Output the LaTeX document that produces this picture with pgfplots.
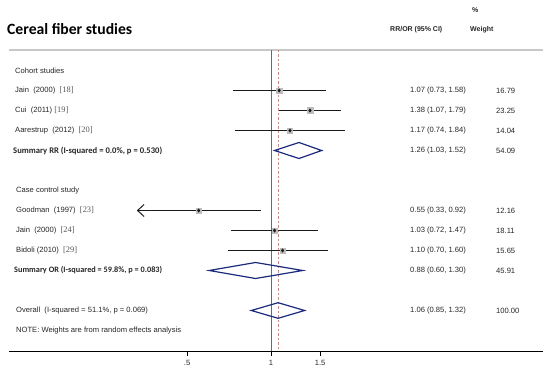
\documentclass[border=0pt]{standalone}
\usepackage{fontspec}
\setmainfont{Liberation Sans}
\newfontfamily\refs{Liberation Serif}
\newfontfamily\osans{Carlito}
\usepackage{graphicx}
\usepackage{pgfplots}
\pgfplotsset{compat=1.18}
\usetikzlibrary{arrows.meta}
\definecolor{ci}{HTML}{1A1A1A}
\definecolor{dia}{HTML}{1C2A7E}
\definecolor{boxg}{HTML}{BDBDBD}
\definecolor{nullc}{HTML}{6A6A6A}
\definecolor{refl}{HTML}{C98A8A}
\definecolor{txt}{HTML}{262626}
\definecolor{refc}{HTML}{555555}
\definecolor{topl}{HTML}{C8C8C8}
\newcommand{\sm}{\fontsize{7.6bp}{9bp}\selectfont}
\newcommand{\hd}{\fontsize{7bp}{8bp}\selectfont\bfseries}
\newcommand{\rf}[1]{{\refs\fontsize{8.4bp}{9bp}\selectfont\color{refc}[#1]}}
\begin{document}
\begin{tikzpicture}
\useasboundingbox (-9.3bp,-25bp) rectangle (540.7bp,351bp);
\begin{axis}[
  scale only axis, width=533.7bp, height=351bp,
  xmode=log, xmin=0.1150, xmax=9.467, ymin=-351, ymax=0,
  axis x line*=bottom, axis y line=none, ytick=\empty,
  xtick={0.5,1,1.5}, xticklabels={.5,1,1.5}, xminorticks=false,
  tick align=outside, major tick length=5bp,
  x axis line style={black, line width=0.8bp},
  xtick style={black, line width=0.8bp},
  xticklabel style={font=\sm, text=txt, yshift=-1bp},
  clip=false,
]
% frame lines
\addplot[topl, line width=1.3bp] coordinates {(0.115,-50) (9.467,-50)};
\addplot[nullc, line width=0.9bp] coordinates {(1,-50) (1,-351)};
\addplot[refl, line width=0.8bp, dash pattern=on 2.5bp off 2bp] coordinates {(1.06,-50) (1.06,-351)};
% weight boxes
\addplot[only marks, mark=square*, mark size=2.6bp, mark options={fill=boxg, draw=boxg}] coordinates {(1.07,-90.5)};
\addplot[only marks, mark=square*, mark size=3.1bp, mark options={fill=boxg, draw=boxg}] coordinates {(1.38,-110.5)};
\addplot[only marks, mark=square*, mark size=2.4bp, mark options={fill=boxg, draw=boxg}] coordinates {(1.17,-130.5)};
\addplot[only marks, mark=square*, mark size=2.25bp, mark options={fill=boxg, draw=boxg}] coordinates {(0.55,-210.5)};
\addplot[only marks, mark=square*, mark size=2.7bp, mark options={fill=boxg, draw=boxg}] coordinates {(1.03,-230.5)};
\addplot[only marks, mark=square*, mark size=2.5bp, mark options={fill=boxg, draw=boxg}] coordinates {(1.10,-250.5)};
% CI lines
\addplot[ci, line width=1bp] coordinates {(0.73,-90.5) (1.58,-90.5)};
\addplot[ci, line width=1bp] coordinates {(1.07,-110.5) (1.79,-110.5)};
\addplot[ci, line width=1bp] coordinates {(0.74,-130.5) (1.84,-130.5)};
\addplot[ci, line width=1bp, {Straight Barb[length=6.5bp,width=12bp,line width=1bp]}-] coordinates {(0.33,-210.5) (0.92,-210.5)};
\addplot[ci, line width=1bp] coordinates {(0.72,-230.5) (1.47,-230.5)};
\addplot[ci, line width=1bp] coordinates {(0.70,-250.5) (1.60,-250.5)};
% point estimates
\addplot[only marks, mark=diamond*, mark size=1.7bp, mark options={fill=ci, draw=ci}] coordinates {(1.07,-90.5) (1.38,-110.5) (1.17,-130.5) (0.55,-210.5) (1.03,-230.5) (1.10,-250.5)};
% pooled diamonds
\addplot[dia, line width=1.2bp, line join=miter] coordinates {(1.03,-150.5) (1.26,-142.5) (1.52,-150.5) (1.26,-158.5)} -- cycle;
\addplot[dia, line width=1.2bp, line join=miter] coordinates {(0.60,-270.5) (0.88,-262.5) (1.30,-270.5) (0.88,-278.5)} -- cycle;
\addplot[dia, line width=1.2bp, line join=miter] coordinates {(0.85,-310.5) (1.06,-302.7) (1.32,-310.5) (1.06,-318.3)} -- cycle;
\end{axis}
\begin{scope}[x=1bp,y=1bp,shift={(-9.3bp,351bp)}]
\node[anchor=west,inner sep=0] at (7,-29.5) {\resizebox{125bp}{!}{\osans\bfseries Cereal fiber studies}};
\node[anchor=west,inner sep=0,text=txt] at (472,-10) {\hd\%};
\node[anchor=west,inner sep=0,text=txt] at (390,-30) {\hd RR/OR (95\% CI)};
\node[anchor=west,inner sep=0,text=txt] at (470,-30) {\hd Weight};
\begin{scope}[every node/.style={anchor=west,inner sep=0,text=txt,font=\sm}]
\node at (15,-70.5) {Cohort studies};
\node at (15,-90.5) {Jain\ \ (2000)\ \ \rf{18}};
\node at (15,-110.5) {Cui\ \ (2011)\ \rf{19}};
\node at (15,-130.5) {Aarestrup\ \ (2012)\ \ \rf{20}};
\node at (16,-190.5) {Case control study};
\node at (16,-210.5) {Goodman\ \ (1997)\ \ \rf{23}};
\node at (16,-230.5) {Jain\ \ (2000)\ \ \rf{24}};
\node at (16,-250.5) {Bidoli (2010)\ \ \rf{29}};
\node at (16,-310.5) {Overall\ \ (I-squared = 51.1\%, p = 0.069)};
\node at (16,-331) {NOTE: Weights are from random effects analysis};
\node at (410,-90.5) {1.07 (0.73, 1.58)};
\node at (410,-110.5) {1.38 (1.07, 1.79)};
\node at (410,-130.5) {1.17 (0.74, 1.84)};
\node at (410,-150.5) {1.26 (1.03, 1.52)};
\node at (410,-210.5) {0.55 (0.33, 0.92)};
\node at (410,-230.5) {1.03 (0.72, 1.47)};
\node at (410,-250.5) {1.10 (0.70, 1.60)};
\node at (410,-270.5) {0.88 (0.60, 1.30)};
\node at (410,-310.5) {1.06 (0.85, 1.32)};
\node at (496,-90.5) {16.79};
\node at (496,-110.5) {23.25};
\node at (496,-130.5) {14.04};
\node at (496,-150.5) {54.09};
\node at (496,-210.5) {12.16};
\node at (496,-230.5) {18.11};
\node at (496,-250.5) {15.65};
\node at (496,-270.5) {45.91};
\node at (496,-310.5) {100.00};
\end{scope}
\node[anchor=west,inner sep=0,text=txt] at (13,-150.5) {\resizebox{149bp}{!}{\osans\bfseries Summary RR (I-squared = 0.0\%, p = 0.530)}};
\node[anchor=west,inner sep=0,text=txt] at (14,-270.5) {\resizebox{148bp}{!}{\osans\bfseries Summary OR (I-squared = 59.8\%, p = 0.083)}};
\end{scope}
\end{tikzpicture}
\end{document}
